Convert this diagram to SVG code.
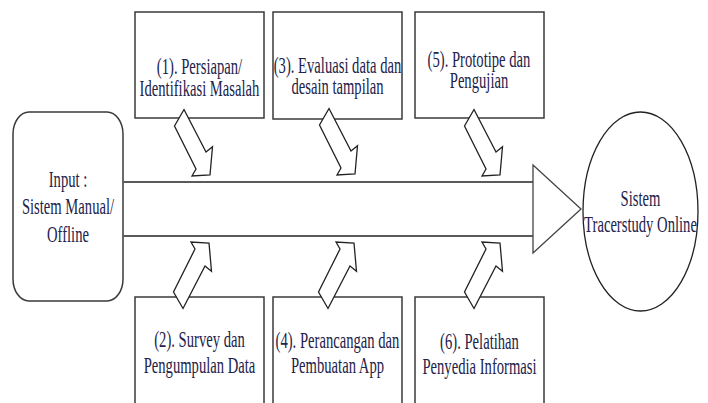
<svg xmlns="http://www.w3.org/2000/svg" xmlns:xlink="http://www.w3.org/1999/xlink" width="708" height="403" viewBox="0 0 708 403">
<style>
.box{fill:#fff;stroke:#3a3a3a;stroke-width:1.5}
.ell{fill:#fff;stroke:#222;stroke-width:1.3}
.shaft{stroke:#5a5a5a;stroke-width:2;fill:none}
.head{fill:#fff;stroke:#444;stroke-width:1.3}
.blk{fill:#fff;stroke:#222;stroke-width:1.3;stroke-linejoin:miter}
text{font-family:"Liberation Serif","Times New Roman",serif;font-size:24px;fill:#22224a;text-anchor:middle}
</style>
<defs>
<path id="blockArrow" d="M-26,-65.5 L-4,-23 L2.5,-28.3 L0,0 L-18,1 L-14,-6 L-35.5,-49 Z"/>
</defs>
<rect width="708" height="403" fill="#fff"/>

<g id="input">
<rect class="box" x="13" y="112" width="110" height="189" rx="16" ry="22"/>
<text transform="translate(68,187) scale(0.61,1)">Input :</text>
<text transform="translate(68,214) scale(0.61,1)">Sistem Manual/</text>
<text transform="translate(68,242) scale(0.61,1)">Offline</text>
</g>

<g id="step1">
<rect class="box" x="135" y="12" width="129" height="106"/>
<text transform="translate(199.5,74) scale(0.61,1)">(1). Persiapan/</text>
<text transform="translate(199.5,96) scale(0.61,1)">Identifikasi Masalah</text>
</g>

<g id="step3">
<rect class="box" x="273" y="12" width="129" height="107"/>
<text transform="translate(337.5,73) scale(0.61,1)">(3). Evaluasi data dan</text>
<text transform="translate(337.5,94) scale(0.61,1)">desain tampilan</text>
</g>

<g id="step5">
<rect class="box" x="415" y="12" width="129" height="106"/>
<text transform="translate(479,67) scale(0.61,1)">(5). Prototipe dan</text>
<text transform="translate(479,88) scale(0.61,1)">Pengujian</text>
</g>

<g id="step2">
<rect class="box" x="135" y="297" width="129" height="115"/>
<text transform="translate(199.5,347) scale(0.61,1)">(2). Survey dan</text>
<text transform="translate(199.5,373) scale(0.61,1)">Pengumpulan Data</text>
</g>

<g id="step4">
<rect class="box" x="273" y="297" width="129" height="115"/>
<text transform="translate(337.5,348) scale(0.61,1)">(4). Perancangan dan</text>
<text transform="translate(337.5,373) scale(0.61,1)">Pembuatan App</text>
</g>

<g id="step6">
<rect class="box" x="415" y="297" width="129" height="115"/>
<text transform="translate(479.5,349) scale(0.61,1)">(6). Pelatihan</text>
<text transform="translate(479.5,374) scale(0.61,1)">Penyedia Informasi</text>
</g>

<g id="output">
<ellipse class="ell" cx="640.5" cy="211.5" rx="57.5" ry="99.5"/>
<text transform="translate(640.5,206) scale(0.61,1)">Sistem</text>
<text transform="translate(640.5,232) scale(0.61,1)">Tracerstudy Online</text>
</g>

<g id="connectors">
<line class="shaft" x1="123" y1="182" x2="533" y2="182"/>
<line class="shaft" x1="123" y1="236" x2="533" y2="236"/>
<polygon class="head" points="533,165 581,209 533,253"/>
<use xlink:href="#blockArrow" class="blk" transform="translate(210,175)"/>
<use xlink:href="#blockArrow" class="blk" transform="translate(355,174)"/>
<use xlink:href="#blockArrow" class="blk" transform="translate(500,175)"/>
<use xlink:href="#blockArrow" class="blk" transform="translate(209,243) scale(1,-1)"/>
<use xlink:href="#blockArrow" class="blk" transform="translate(354,243) scale(1,-1)"/>
<use xlink:href="#blockArrow" class="blk" transform="translate(500,243) scale(1,-1)"/>
</g>
</svg>
